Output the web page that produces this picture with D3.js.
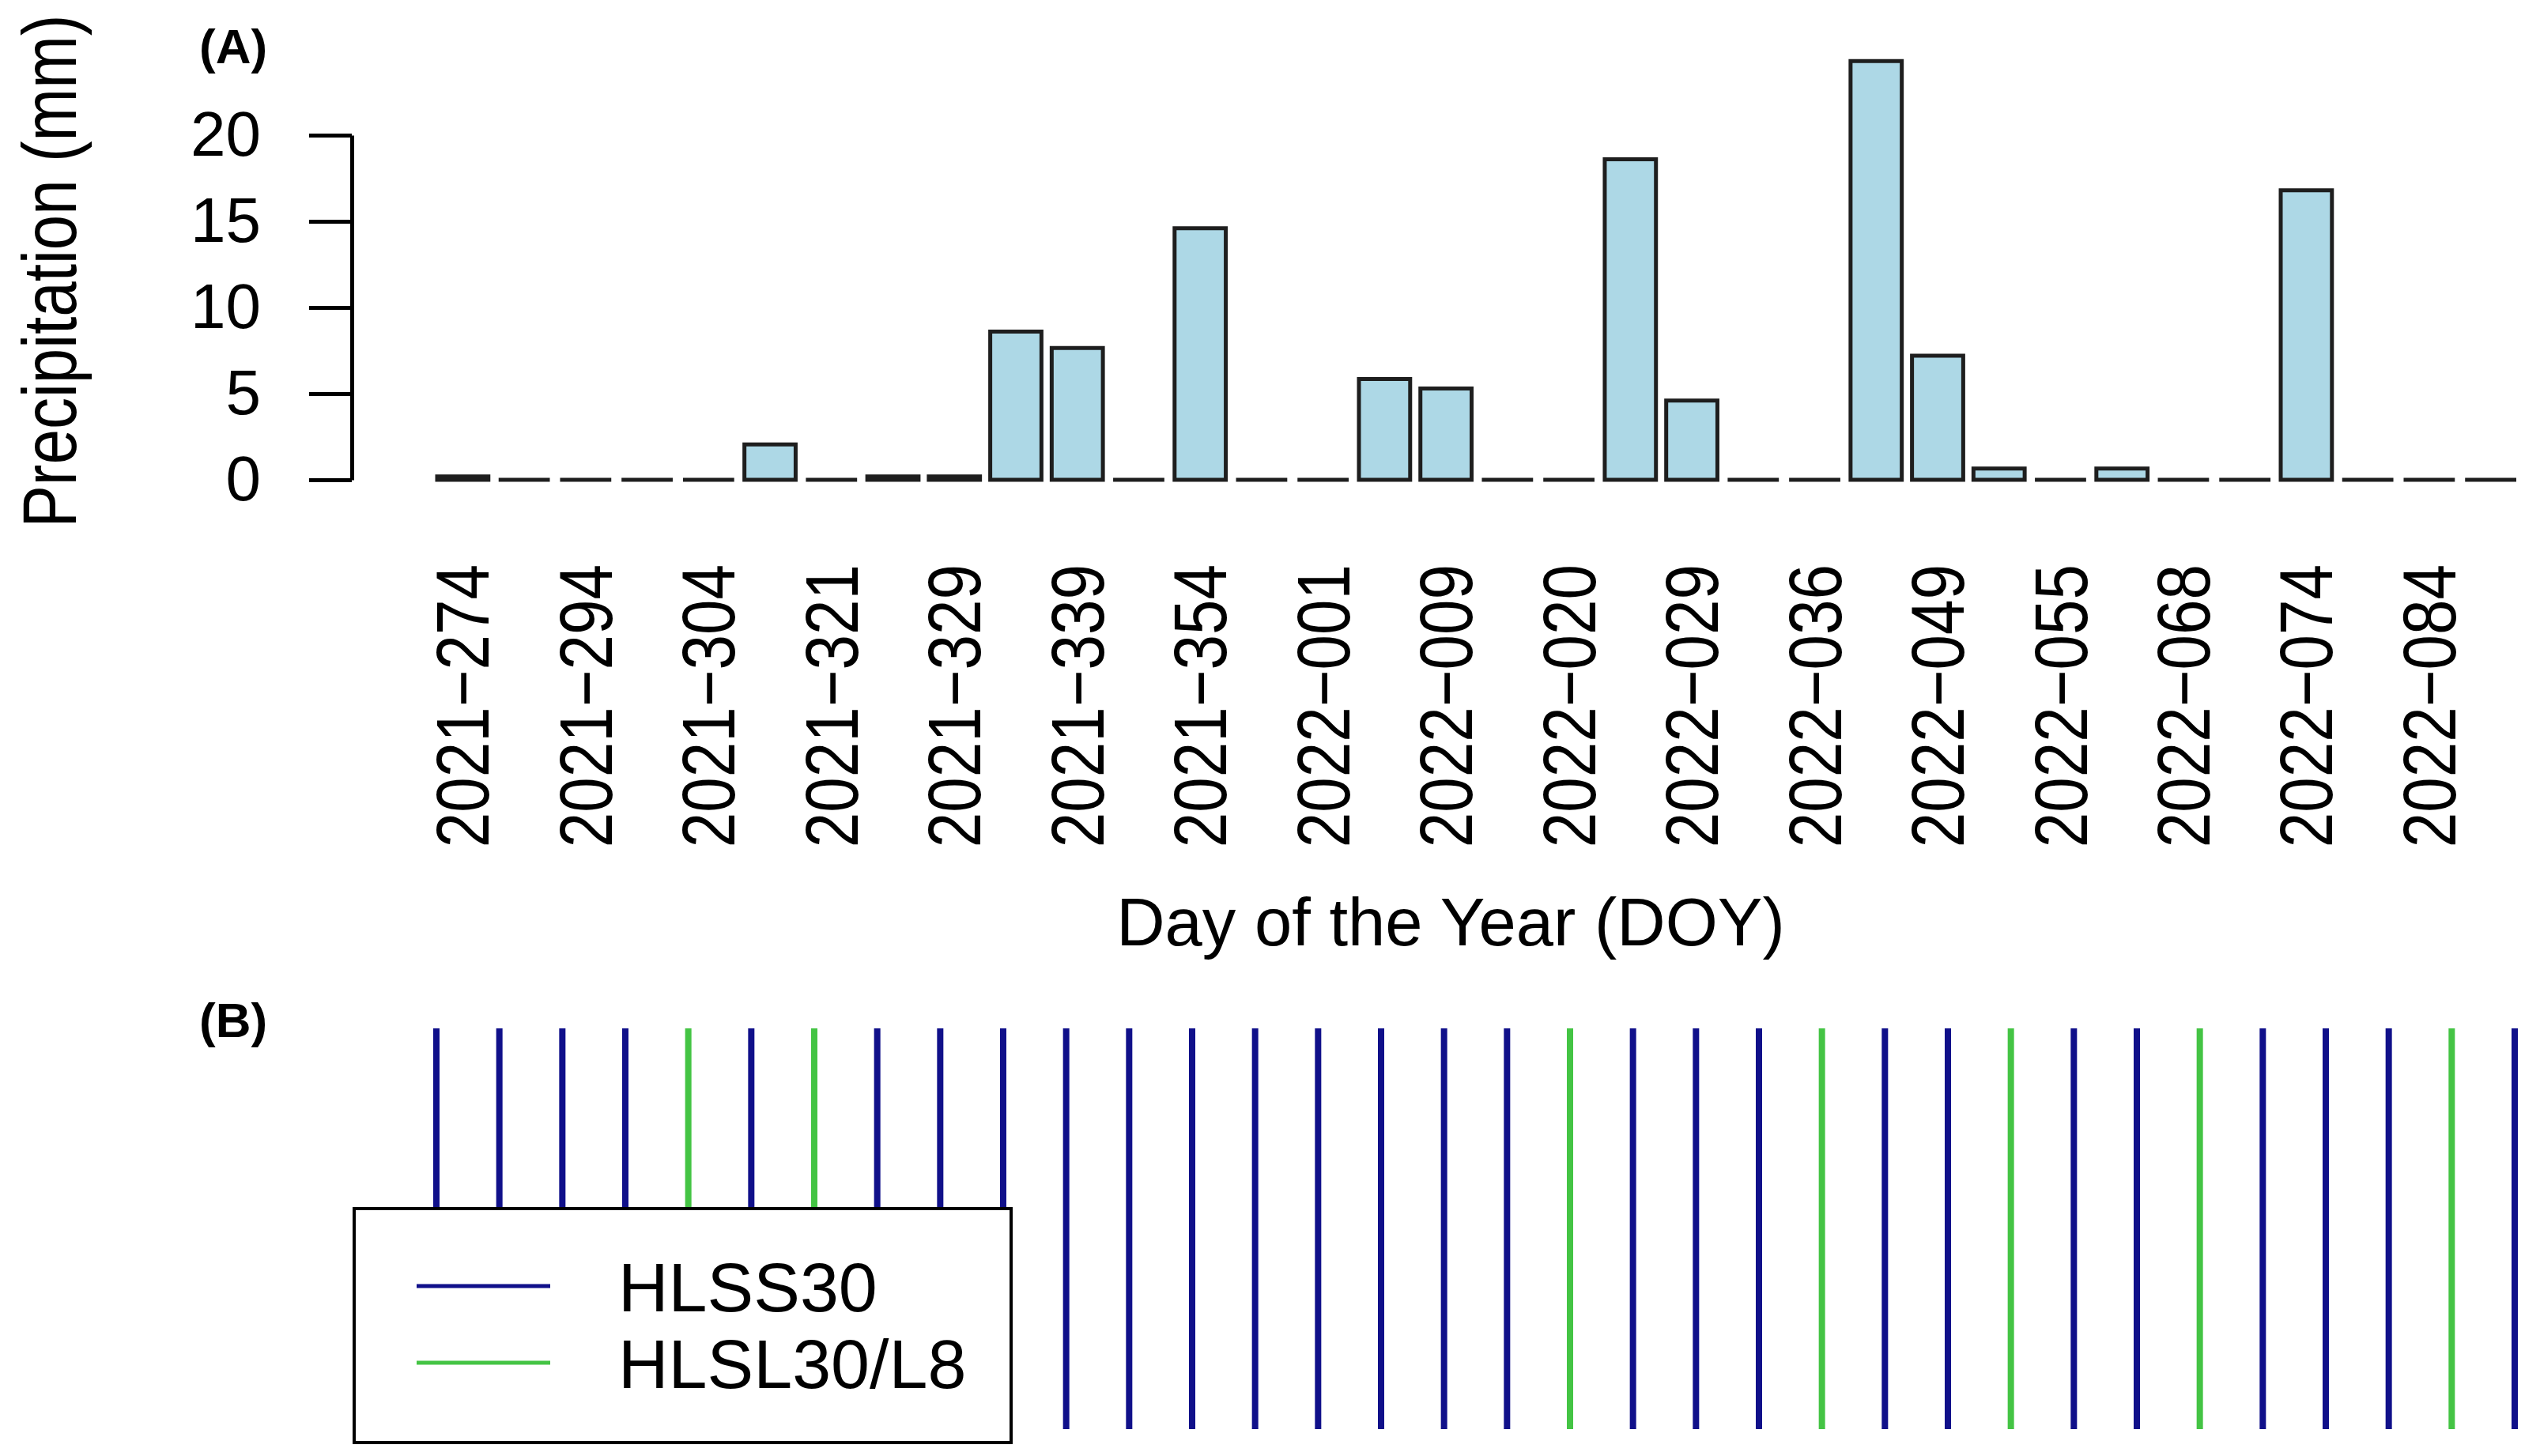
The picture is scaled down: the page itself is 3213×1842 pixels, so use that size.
<!DOCTYPE html>
<html>
<head>
<meta charset="utf-8">
<script src="https://cdn.jsdelivr.net/npm/d3@7"></script>
<style>
    body { margin: 0; background: #fff; }
    text { font-family: "Liberation Sans", Arial, sans-serif; fill: #000; }
</style>
</head>
<body>
<div id="chart"></div>
<script>
// precipitation per acquisition interval (mm), one per bar
const precip = [0.2, 0, 0, 0, 0, 2.05, 0, 0.2, 0.2, 8.6, 7.65, 0, 14.6, 0, 0, 5.85, 5.3,
    0, 0, 18.6, 4.6, 0, 0, 24.3, 7.2, 0.65, 0, 0.65, 0, 0, 16.8, 0, 0, 0];

// labels shown under every other bar
const doyLabels = ["2021-274", "2021-294", "2021-304", "2021-321", "2021-329", "2021-339",
    "2021-354", "2022-001", "2022-009", "2022-020", "2022-029", "2022-036", "2022-049",
    "2022-055", "2022-068", "2022-074", "2022-084"];

const yTicks = [0, 5, 10, 15, 20];

// sensor of each acquisition in panel B
const sensors = ["HLSS30", "HLSS30", "HLSS30", "HLSS30", "HLSL30/L8", "HLSS30", "HLSL30/L8",
    "HLSS30", "HLSS30", "HLSS30", "HLSS30", "HLSS30", "HLSS30", "HLSS30", "HLSS30", "HLSS30",
    "HLSS30", "HLSS30", "HLSL30/L8", "HLSS30", "HLSS30", "HLSS30", "HLSL30/L8", "HLSS30",
    "HLSS30", "HLSL30/L8", "HLSS30", "HLSS30", "HLSL30/L8", "HLSS30", "HLSS30", "HLSS30",
    "HLSL30/L8", "HLSS30"];

const sensorNames = ["HLSS30", "HLSL30/L8"];
const sensorColors = ["#10108a", "#44c444"];

const width = 3213, height = 1842;
const font = 80;

const svg = d3.select("#chart").append("svg")
    .attr("width", width)
    .attr("height", height);

// ---------- panel A : precipitation bars ----------
const x = d3.scaleBand()
    .domain(d3.range(precip.length))
    .range([553, 3183])
    .paddingInner(0.2 / 1.2)
    .paddingOuter(0);

const y = d3.scaleLinear()
    .domain([0, 20])
    .range([607, 171]);

svg.append("g")
    .selectAll("path")
    .data(precip)
    .enter()
    .append("path")
    .attr("d", (d, i) => {
        var p = d3.path();
        p.rect(x(i), y(d), x.bandwidth(), y(0) - y(d));
        return p.toString();
    })
    .attr("fill", "#add8e6")
    .attr("stroke", "#1e1e1e")
    .attr("stroke-width", 5);

// y axis
const yAxis = svg.append("g")
    .attr("transform", "translate(445,0)")
    .call(d3.axisLeft(y).tickValues(yTicks).tickSize(54).tickSizeOuter(0).tickPadding(61));
yAxis.select(".domain").attr("stroke", "#000").attr("stroke-width", 5);
yAxis.selectAll(".tick line").attr("stroke", "#000").attr("stroke-width", 5);
yAxis.selectAll(".tick text")
    .style("font-family", "'Liberation Sans', Arial, sans-serif")
    .style("font-size", font + "px")
    .attr("fill", "#000");

// rotated DOY labels under every other bar
svg.append("g")
    .selectAll("text")
    .data(doyLabels)
    .enter()
    .append("text")
    .attr("transform", (d, i) => "translate(" + (x(i * 2) + x.bandwidth() / 2) + ",714) scale(1.18,1) rotate(-90)")
    .attr("text-anchor", "end")
    .attr("dy", "0.35em")
    .style("font-size", font + "px")
    .text((d) => d.replace("-", "\u2212"));

// axis titles
svg.append("text")
    .attr("transform", "translate(96,343) scale(1.2,1) rotate(-90)")
    .attr("text-anchor", "middle")
    .style("font-size", font + "px")
    .text("Precipitation (mm)");

svg.append("text")
    .attr("x", 1835)
    .attr("y", 1196)
    .attr("text-anchor", "middle")
    .style("font-size", "85px")
    .text("Day of the Year (DOY)");

svg.append("text")
    .attr("x", 252)
    .attr("y", 80)
    .style("font-size", "62px")
    .style("font-weight", "bold")
    .text("(A)");

// ---------- panel B : image acquisitions ----------
const xb = d3.scalePoint()
    .domain(d3.range(sensors.length))
    .range([552, 3181]);

const color = d3.scaleOrdinal().domain(sensorNames).range(sensorColors);

svg.append("text")
    .attr("x", 252)
    .attr("y", 1312)
    .style("font-size", "62px")
    .style("font-weight", "bold")
    .text("(B)");

svg.append("g")
    .selectAll("line")
    .data(sensors)
    .enter()
    .append("line")
    .attr("x1", (d, i) => xb(i))
    .attr("x2", (d, i) => xb(i))
    .attr("y1", 1301)
    .attr("y2", 1808)
    .attr("stroke", (d) => color(d))
    .attr("stroke-width", 8);

// legend
const legend = svg.append("g");
legend.append("rect")
    .attr("x", 448)
    .attr("y", 1529)
    .attr("width", 831)
    .attr("height", 296)
    .attr("fill", "#fff")
    .attr("stroke", "#000")
    .attr("stroke-width", 4);

const items = legend.selectAll(".item")
    .data(sensorNames)
    .enter()
    .append("g")
    .attr("class", "item")
    .attr("transform", (d, i) => "translate(0," + (1627 + i * 97) + ")");
items.append("line")
    .attr("x1", 527)
    .attr("x2", 696)
    .attr("stroke", (d) => color(d))
    .attr("stroke-width", 5);
items.append("text")
    .attr("x", 782)
    .attr("dy", "0.36em")
    .style("font-size", "88px")
    .text((d) => d);
</script>
</body>
</html>
